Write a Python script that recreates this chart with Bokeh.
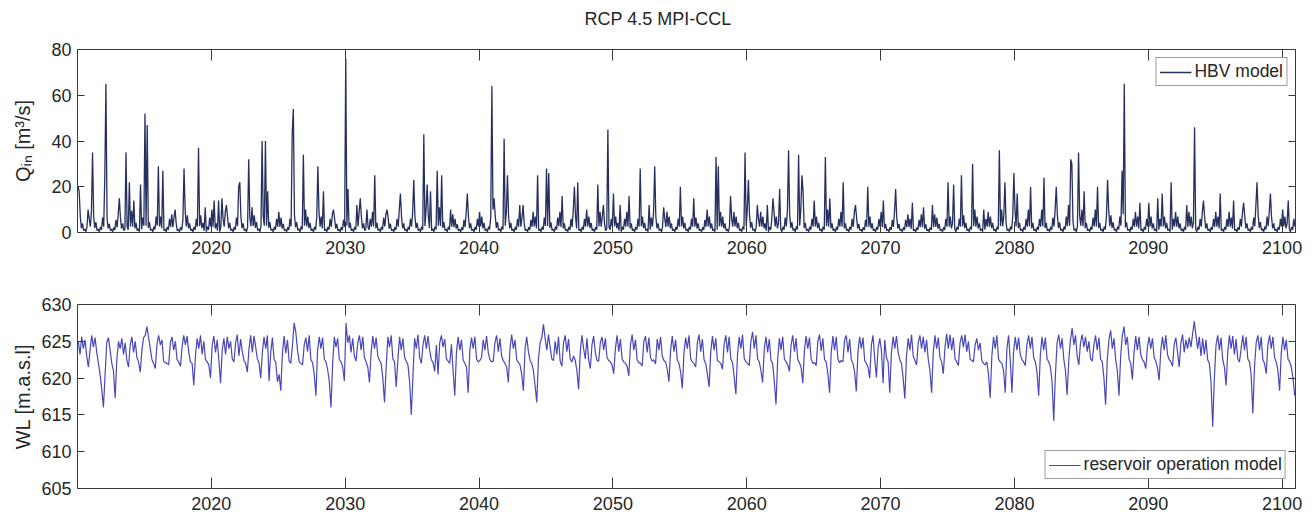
import numpy as np
from bokeh.plotting import figure
from bokeh.models import Range1d, LinearAxis, FixedTicker, Title
from bokeh.layouts import column
from bokeh.embed import file_html
from bokeh.resources import INLINE

title_text = "RCP 4.5 MPI-CCL"
q_label = "Q\u1d62\u2099 [m\u00b3/s]"
wl_label = "WL [m.a.s.l]"
q_series_name = "HBV model"
wl_series_name = "reservoir operation model"
start_year = 2010
end_year = 2101
year_ticks = [2020, 2030, 2040, 2050, 2060, 2070, 2080, 2090, 2100]
q_ticks = [0, 20, 40, 60, 80]
wl_ticks = [605, 610, 615, 620, 625, 630]
q_per_year = 12   # values per year (Jan..Dec) in the Q_in lists
wl_per_year = 8   # values per year in the WL lists

# ---- Q_in [m3/s], HBV model (12 values per year) ----
q_2010s = [
    20, 18, 7, 1.8, 4, 0.8, 1.5, 0.3, 2.5, 10, 6, 2.5,
    9, 35, 7, 2, 4.5, 0.9, 1.4, 0.3, 2.4, 1.2, 6.5, 2.5,
    25, 65, 6, 1.8, 3.8, 0.8, 1.5, 0.3, 2.2, 1.1, 5.5, 2.2,
    8, 15, 6.5, 1.7, 4, 0.8, 1.5, 35, 2.5, 1.2, 22, 2.6,
    9.5, 2.5, 14, 1.8, 4.2, 0.8, 1.6, 0.3, 21, 1.3, 6.5, 3,
    52, 3, 47, 2, 4.5, 0.9, 1.5, 0.3, 2.6, 1.3, 7, 3,
    29, 2.6, 7, 1.9, 27, 0.8, 1.5, 0.3, 2.4, 1.2, 6, 2.4,
    8, 2.3, 6.5, 10, 3.8, 0.7, 1.4, 0.3, 2.3, 1.1, 5.5, 28,
    10, 2.6, 7.5, 1.8, 4, 0.8, 1.5, 0.3, 2.5, 1.2, 6, 2.5,
    37, 2.8, 7.5, 1.9, 4.2, 0.8, 11, 0.3, 2.6, 1.2, 6.5, 2.6,
]
q_2020s = [
    10, 2.5, 14, 1.8, 4, 0.8, 14, 0.3, 2.5, 15, 6, 2.5,
    9, 12, 7, 1.8, 4.2, 0.8, 1.5, 0.3, 2.4, 1.2, 6.5, 2.8,
    20, 22, 7, 1.9, 4, 0.8, 1.5, 0.3, 2.5, 32, 6.5, 2.8,
    11, 2.8, 7.5, 2, 4.5, 0.9, 1.6, 0.3, 2.7, 40, 7, 3,
    40, 3, 18, 2, 4.5, 0.9, 1.5, 0.3, 2.5, 1.2, 6, 2.5,
    9, 2.4, 6.5, 1.7, 3.8, 0.8, 1.4, 0.3, 2.3, 1.1, 6, 2.6,
    43, 54, 8, 2.2, 4.5, 0.9, 1.6, 0.3, 2.7, 1.3, 34, 3,
    10, 2.7, 7, 1.9, 4.2, 0.8, 1.5, 0.3, 2.5, 1.2, 6.5, 29,
    9, 2.5, 7, 1.8, 18, 0.8, 1.5, 0.3, 2.4, 1.2, 6, 2.4,
    8, 10, 6, 1.7, 3.8, 0.7, 1.4, 0.3, 2.3, 1.1, 5.5, 2.4,
]
q_2030s = [
    76, 3, 19, 2, 4.2, 0.8, 1.5, 0.3, 2.5, 1.2, 12, 2.6,
    9, 15, 7, 1.8, 4, 0.8, 1.5, 10, 2.4, 1.2, 6, 2.5,
    9, 2.6, 25, 1.8, 4.2, 0.8, 1.5, 0.3, 2.5, 1.2, 6.5, 2.6,
    8, 10, 6.5, 1.7, 3.9, 0.8, 1.4, 0.3, 2.3, 1.1, 6, 2.5,
    10, 17, 7, 1.8, 4, 0.8, 1.5, 0.3, 2.4, 1.2, 6, 2.5,
    9, 23, 7, 1.9, 4.2, 0.8, 1.5, 0.3, 2.6, 1.2, 43, 2.8,
    10, 21, 7.5, 2, 18, 0.8, 1.6, 0.3, 2.6, 1.3, 27, 3,
    11, 2.8, 25, 2, 4.5, 0.9, 1.5, 0.3, 2.5, 1.2, 10, 2.5,
    8, 2.3, 6, 1.7, 3.6, 0.7, 1.4, 0.3, 2.2, 1.1, 5.5, 2.3,
    9, 17, 7, 1.8, 4, 0.8, 1.5, 0.3, 2.4, 1.2, 6, 2.6,
]
q_2040s = [
    9, 2.6, 7, 1.8, 4.2, 0.8, 1.5, 0.3, 2.6, 1.3, 7, 64,
    10, 15, 7.5, 2, 4.5, 0.9, 1.6, 0.3, 2.6, 1.3, 41, 3,
    9, 25, 7, 1.8, 4.2, 0.8, 1.5, 0.3, 2.5, 1.2, 6, 2.5,
    12, 2.5, 6.5, 12, 3.9, 0.8, 1.4, 0.3, 2.3, 1.1, 5.5, 2.4,
    9, 2.6, 7, 1.8, 25, 0.8, 1.5, 0.3, 2.5, 1.2, 6.5, 2.8,
    28, 2.8, 26, 2, 4.4, 0.9, 1.5, 0.3, 2.6, 1.2, 6.5, 2.7,
    9, 2.4, 16, 1.8, 4, 0.8, 1.4, 0.3, 2.4, 1.1, 6, 2.4,
    10, 20, 7, 1.8, 22, 0.8, 1.5, 0.3, 2.5, 1.2, 6, 2.5,
    10, 2.6, 7, 1.9, 4.2, 0.8, 1.5, 0.3, 2.5, 1.2, 21, 2.6,
    9, 2.5, 7, 12, 4, 0.8, 1.5, 45, 2.4, 1.2, 6, 2.5,
]
q_2050s = [
    17, 2.6, 7, 1.8, 4.2, 0.8, 12, 0.3, 2.5, 1.2, 6, 2.6,
    9, 2.5, 16, 1.8, 4, 0.8, 1.5, 0.3, 2.4, 1.2, 6, 2.5,
    28, 2.7, 7, 1.9, 4.2, 0.8, 1.5, 0.3, 12, 1.2, 6.5, 2.6,
    9, 29, 7, 1.8, 4, 0.8, 1.5, 0.3, 2.4, 11, 6, 2.4,
    9, 2.5, 7, 1.8, 4, 0.8, 1.5, 0.3, 2.4, 1.2, 6, 2.5,
    20, 2.6, 7, 1.8, 4.2, 0.8, 1.5, 0.3, 2.5, 1.2, 6, 2.5,
    15, 2.5, 6.5, 1.7, 4, 0.8, 1.4, 0.3, 2.3, 1.1, 5.5, 2.4,
    10, 2.6, 7, 1.8, 4, 0.8, 1.5, 0.3, 33, 1.2, 29, 2.6,
    9, 2.5, 7, 1.8, 4, 0.8, 1.5, 0.3, 2.5, 16, 6, 2.6,
    9, 2.6, 7, 1.9, 4.2, 0.8, 1.5, 0.3, 2.6, 1.3, 35, 2.8,
]
q_2060s = [
    10, 23, 7.5, 2, 4.5, 0.9, 1.5, 0.3, 2.5, 12, 6, 2.6,
    9, 2.5, 7, 1.8, 4, 0.8, 12, 0.3, 2.4, 1.2, 6, 15,
    9, 2.6, 7, 1.8, 4.2, 19, 1.5, 0.3, 2.5, 1.2, 6.5, 2.6,
    10, 36, 7.5, 2, 4.5, 0.9, 1.6, 0.3, 2.7, 1.3, 34, 3,
    10, 25, 18, 1.9, 4.2, 0.8, 1.5, 0.3, 2.5, 1.2, 6, 2.6,
    14, 2.6, 7, 1.9, 4.2, 0.8, 1.5, 0.3, 2.6, 1.2, 33, 2.8,
    10, 2.5, 15, 1.8, 4, 0.8, 1.5, 0.3, 2.4, 1.2, 6, 2.5,
    9, 2.5, 22, 1.8, 4, 0.8, 1.5, 0.3, 2.4, 1.2, 6, 2.4,
    9, 12, 6.5, 1.7, 3.8, 0.8, 1.4, 0.3, 2.3, 1.1, 5.5, 2.4,
    20, 2.5, 7, 1.8, 4, 0.8, 1.5, 0.3, 2.4, 1.2, 6, 2.4,
]
q_2070s = [
    9, 2.4, 14, 1.7, 3.8, 0.8, 1.4, 0.3, 2.3, 1.1, 5.5, 2.4,
    9, 19, 6.5, 1.7, 3.8, 0.8, 1.4, 0.3, 2.3, 1.1, 5.5, 2.3,
    8, 2.3, 6, 1.6, 13, 0.7, 1.4, 0.3, 2.2, 1.1, 5.5, 2.3,
    8, 2.3, 11, 1.6, 3.6, 0.7, 1.4, 0.3, 2.2, 1.1, 12, 2.3,
    8, 2.4, 6.5, 1.7, 3.8, 0.8, 1.4, 0.3, 2.3, 1.1, 6, 2.5,
    22, 2.5, 7, 1.8, 4, 21, 1.5, 0.3, 2.4, 1.2, 6, 2.5,
    25, 2.7, 7.5, 1.9, 4.2, 0.8, 1.5, 0.3, 2.6, 1.3, 30, 2.8,
    10, 2.5, 7, 1.8, 4, 0.8, 1.5, 0.3, 10, 1.2, 6, 2.5,
    9, 2.5, 7, 1.9, 4.2, 0.8, 1.5, 0.3, 2.6, 1.3, 36, 2.8,
    10, 2.6, 7.5, 22, 4.2, 0.8, 1.5, 0.3, 2.6, 1.3, 7, 26,
]
q_2080s = [
    10, 2.6, 17, 1.9, 4.2, 0.8, 1.5, 0.3, 2.5, 1.2, 6, 2.5,
    10, 2.6, 20, 1.8, 4.2, 0.8, 1.5, 0.3, 2.5, 1.2, 6, 2.5,
    10, 2.6, 24, 1.9, 4.2, 0.8, 1.5, 0.3, 2.5, 1.2, 6.5, 2.6,
    10, 20, 7.5, 1.9, 4.4, 0.8, 1.5, 0.3, 2.6, 1.3, 7, 2.8,
    12, 3, 32, 30, 4.8, 0.9, 1.6, 0.3, 2.8, 35, 7.5, 3,
    10, 2.7, 18, 1.9, 4.2, 0.8, 1.5, 0.3, 2.5, 1.2, 6.5, 2.6,
    10, 2.6, 20, 1.9, 4.2, 0.8, 1.5, 0.3, 2.6, 1.3, 7, 23,
    10, 2.8, 7.5, 2, 4.4, 0.9, 1.5, 0.3, 2.6, 1.3, 7, 3,
    27, 8, 65, 2.2, 4.5, 0.9, 1.5, 0.3, 2.5, 1.2, 6, 2.5,
    9, 2.5, 7, 1.8, 13, 0.8, 1.5, 0.3, 2.4, 1.2, 6, 2.5,
]
q_2090s = [
    13, 2.5, 7, 1.8, 4, 0.8, 1.5, 0.3, 15, 1.2, 6, 2.5,
    17, 2.6, 7, 1.8, 4.2, 0.8, 1.5, 0.3, 22, 1.2, 6, 2.5,
    9, 2.5, 7, 1.8, 4, 0.8, 1.5, 0.3, 2.4, 1.2, 12, 2.5,
    9, 2.6, 7, 1.8, 4.2, 46, 1.5, 0.3, 2.5, 1.2, 6, 2.5,
    9, 14, 7, 1.8, 4, 0.8, 1.5, 0.3, 2.4, 1.2, 6, 2.4,
    9, 2.5, 7, 1.8, 17, 0.8, 1.5, 0.3, 2.4, 1.2, 6, 2.4,
    9, 2.5, 6.5, 1.7, 14, 0.8, 1.4, 0.3, 2.3, 1.1, 6, 2.5,
    9, 13, 7, 1.8, 4, 0.8, 1.5, 0.3, 2.4, 1.2, 6.5, 2.7,
    12, 22, 8, 2, 4.5, 0.9, 1.6, 0.3, 2.6, 1.3, 7, 2.8,
    9, 17, 7, 1.8, 4, 0.8, 1.5, 0.3, 2.4, 1.2, 6, 2.6,
]
q_2100 = [10, 2.6, 7, 1.8, 4, 14, 1.5, 0.3, 2.4, 1.2, 6, 2.5]

# ---- Water level WL [m a.s.l.], reservoir operation model (8 values per year) ----
wl_2010s = [
    625.0, 623.2, 625.6, 624.0, 625.2, 623.0, 621.5, 623.8,
    625.8, 624.2, 625.5, 623.5, 622.0, 620.5, 618.5, 616.0,
    620.5, 624.8, 625.5, 623.8, 622.0, 621.0, 617.3, 622.5,
    625.0, 624.0, 625.4, 623.2, 624.8, 622.4, 621.5, 624.5,
    625.6, 623.5, 625.0, 622.8, 622.2, 620.8, 623.8, 625.5,
    625.8, 627.0, 625.5, 624.0, 622.5, 622.0, 621.3, 624.6,
    625.8, 624.5, 625.2, 622.3, 622.1, 622.0, 621.8, 624.8,
    625.6, 623.8, 625.0, 622.5, 622.2, 621.6, 624.2, 625.8,
    624.5, 625.7, 623.5, 622.2, 622.0, 619.0, 623.0, 625.4,
    624.0, 625.8, 623.2, 625.0, 622.5, 622.2, 621.8, 620.0,
]
wl_2020s = [
    624.5, 625.7, 623.5, 625.2, 622.4, 619.3, 623.8, 625.4,
    623.2, 625.6, 624.0, 625.0, 622.6, 622.2, 624.8, 625.9,
    623.0, 625.3, 623.6, 622.4, 622.0, 620.8, 624.0, 625.8,
    623.5, 625.7, 624.2, 622.6, 622.1, 620.0, 623.5, 625.6,
    624.0, 625.8, 619.6, 623.5, 625.5, 622.5, 622.2, 619.5,
    620.5, 618.3, 623.5, 625.7, 623.4, 625.2, 622.3, 622.0,
    624.5, 627.5, 626.2, 623.8, 622.2, 622.0, 621.8, 624.5,
    625.5, 623.6, 625.8, 622.5, 622.1, 620.5, 617.6, 623.8,
    625.6, 624.0, 625.5, 622.6, 622.2, 621.2, 619.5, 616.0,
    622.0, 625.6, 624.2, 625.4, 622.5, 622.2, 621.5, 619.6,
]
wl_2030s = [
    627.5, 624.8, 625.8, 623.5, 625.4, 623.0, 622.3, 624.8,
    625.8, 623.8, 625.6, 622.8, 622.2, 621.5, 619.4, 623.5,
    625.7, 624.0, 625.5, 623.0, 622.4, 622.0, 620.0, 616.7,
    621.5, 625.6, 624.2, 625.8, 622.6, 622.2, 618.8, 622.5,
    625.6, 623.8, 625.4, 622.8, 622.3, 621.8, 619.5, 615.0,
    620.3, 625.4, 624.0, 625.9, 622.8, 622.0, 624.5, 625.8,
    624.0, 625.7, 623.8, 622.5, 622.1, 620.9, 624.5, 620.5,
    624.8, 625.8, 624.2, 625.3, 622.6, 622.3, 622.0, 624.6,
    621.0, 617.6, 623.5, 625.6, 623.8, 625.2, 622.5, 622.0,
    621.5, 618.0, 623.8, 625.5, 624.0, 625.6, 622.6, 622.2,
]
wl_2040s = [
    622.4, 622.8, 625.2, 623.8, 625.7, 623.5, 622.5, 622.2,
    622.3, 624.8, 625.8, 623.6, 625.4, 623.0, 622.4, 622.0,
    621.5, 619.4, 624.0, 625.9, 624.0, 625.2, 622.5, 622.1,
    621.8, 620.5, 618.3, 624.0, 625.6, 623.6, 622.4, 622.0,
    621.0, 619.0, 616.7, 622.5, 624.8, 625.5, 627.3, 625.4,
    623.8, 625.9, 624.2, 622.6, 622.4, 625.0, 623.2, 625.6,
    622.3, 621.6, 624.8, 625.8, 623.6, 625.3, 622.6, 622.2,
    623.0, 622.4, 621.0, 618.5, 623.6, 625.8, 624.0, 622.6,
    625.4, 622.5, 621.3, 624.5, 625.7, 623.5, 622.4, 622.3,
    624.8, 625.6, 623.8, 625.4, 622.8, 622.4, 622.2, 621.8,
]
wl_2050s = [
    620.6, 624.0, 625.8, 623.6, 625.3, 622.6, 622.2, 622.0,
    621.6, 620.3, 624.5, 625.9, 623.8, 625.2, 622.5, 622.1,
    622.0, 621.6, 625.0, 625.7, 623.5, 625.5, 622.8, 622.3,
    622.5, 621.9, 625.3, 623.8, 625.6, 623.0, 622.4, 622.2,
    621.2, 619.5, 623.8, 625.7, 623.6, 625.2, 622.5, 622.0,
    620.8, 618.6, 623.5, 625.5, 624.0, 625.8, 622.6, 622.2,
    622.0, 621.5, 624.8, 625.9, 623.6, 625.3, 622.5, 622.0,
    620.5, 618.8, 623.6, 625.7, 623.8, 625.4, 622.4, 622.2,
    622.0, 621.2, 624.6, 625.8, 623.5, 625.6, 622.6, 622.1,
    620.2, 617.8, 623.2, 625.6, 624.0, 625.9, 622.7, 622.2,
]
wl_2060s = [
    622.0, 621.7, 625.0, 626.3, 624.0, 625.8, 622.6, 622.2,
    621.0, 619.4, 624.0, 625.6, 623.5, 625.3, 622.4, 622.0,
    619.5, 616.4, 622.5, 625.4, 623.8, 625.6, 622.6, 622.2,
    621.8, 620.9, 624.5, 625.8, 623.6, 625.4, 622.5, 622.1,
    621.4, 619.3, 623.8, 625.7, 624.0, 625.5, 622.6, 622.0,
    622.1, 621.7, 625.0, 625.9, 623.7, 625.4, 622.5, 622.2,
    620.6, 618.0, 623.5, 625.7, 623.8, 625.6, 622.6, 622.1,
    622.4, 622.2, 625.2, 625.8, 623.5, 625.3, 622.5, 622.0,
    620.8, 618.2, 623.6, 625.6, 624.0, 625.5, 622.4, 622.0,
    621.5, 620.0, 624.5, 625.8, 622.6, 620.1, 624.0, 625.4,
]
wl_2070s = [
    623.8, 619.3, 625.2, 622.8, 622.2, 618.0, 623.5, 625.6,
    624.0, 625.7, 623.5, 622.5, 622.0, 620.0, 617.2, 623.0,
    625.4, 623.8, 625.9, 623.0, 622.4, 621.8, 624.8, 625.8,
    624.0, 625.6, 623.5, 625.2, 622.5, 621.0, 618.0, 623.5,
    625.8, 624.0, 625.5, 622.8, 622.2, 620.6, 624.2, 626.0,
    624.0, 625.9, 623.8, 625.5, 622.6, 622.2, 621.7, 624.8,
    625.8, 624.2, 625.9, 623.6, 625.0, 622.6, 622.4, 622.2,
    624.5, 625.4, 623.8, 624.8, 622.4, 622.0, 621.8, 622.2,
    620.5, 617.3, 623.0, 625.6, 624.0, 625.8, 622.6, 622.2,
    622.0, 621.0, 618.0, 624.0, 625.8, 622.5, 618.0, 623.6,
]
wl_2080s = [
    625.6, 623.8, 625.5, 623.2, 622.5, 622.2, 621.7, 624.6,
    625.8, 624.0, 625.6, 622.8, 622.2, 620.8, 617.6, 623.2,
    625.6, 623.8, 625.5, 622.6, 622.2, 621.5, 619.5, 614.2,
    620.5, 624.8, 625.9, 624.0, 625.4, 622.6, 621.0, 617.7,
    622.5, 625.2, 626.8, 624.5, 625.8, 623.0, 621.8, 624.8,
    625.9, 624.2, 625.6, 623.6, 625.0, 622.6, 622.3, 624.5,
    625.8, 623.8, 625.5, 622.6, 622.2, 620.0, 616.4, 622.5,
    625.2, 626.5, 624.0, 625.4, 622.5, 621.0, 617.6, 623.0,
    625.8, 627.0, 624.5, 625.6, 622.6, 622.0, 619.8, 623.5,
    625.7, 623.8, 625.6, 623.2, 622.5, 622.2, 621.3, 624.2,
]
wl_2090s = [
    625.6, 624.0, 625.4, 622.8, 622.3, 621.4, 619.7, 623.8,
    625.6, 623.8, 625.8, 623.2, 622.5, 622.2, 621.6, 624.6,
    625.5, 623.5, 621.5, 624.8, 625.9, 623.5, 625.2, 624.0,
    625.5, 624.2, 626.0, 627.7, 625.8, 624.0, 625.6, 623.0,
    625.4, 623.2, 625.2, 622.5, 622.0, 619.5, 613.4, 620.0,
    624.5, 625.8, 623.8, 625.5, 622.5, 621.5, 619.0, 623.5,
    625.8, 624.0, 625.7, 623.2, 625.3, 622.6, 622.2, 624.0,
    625.8, 623.8, 625.6, 622.6, 622.2, 620.5, 615.2, 621.5,
    624.8, 625.8, 623.8, 625.6, 622.5, 622.0, 620.6, 624.5,
    625.8, 624.0, 625.6, 622.8, 622.2, 621.0, 618.3, 623.5,
]
wl_2100 = [625.6, 623.8, 625.2, 622.6, 622.2, 621.5, 620.0, 617.6]

q_all = (q_2010s + q_2020s + q_2030s + q_2040s + q_2050s + q_2060s + q_2070s
         + q_2080s + q_2090s + q_2100)
wl_all = (wl_2010s + wl_2020s + wl_2030s + wl_2040s + wl_2050s + wl_2060s
          + wl_2070s + wl_2080s + wl_2090s + wl_2100)
q_time = start_year + (np.arange(len(q_all)) + 0.5) / q_per_year
wl_time = start_year + (np.arange(len(wl_all)) + 0.5) / wl_per_year

FONT = "Liberation Sans"
AX = "#3a3a3a"
TXT = "#262626"
W = 1316


def style(p, yticks, ylabel, lab_standoff):
    p.xgrid.visible = False
    p.ygrid.visible = False
    p.outline_line_color = AX
    p.outline_line_width = 1
    p.background_fill_color = "white"
    p.border_fill_color = "white"
    for ax in p.xaxis:
        ax.ticker = FixedTicker(ticks=year_ticks)
        ax.major_tick_in = 11
        ax.major_tick_out = 0
        ax.major_label_standoff = 8
    for ax in p.yaxis:
        ax.ticker = FixedTicker(ticks=yticks)
        ax.major_tick_in = 7
        ax.major_tick_out = 0
        ax.major_label_standoff = 6
        ax.axis_label = ylabel
        ax.axis_label_standoff = lab_standoff
        ax.axis_label_text_font = FONT
        ax.axis_label_text_font_size = "20px"
        ax.axis_label_text_font_style = "normal"
        ax.axis_label_text_color = TXT
    for ax in list(p.xaxis) + list(p.yaxis):
        ax.axis_line_color = None
        ax.major_tick_line_color = AX
        ax.minor_tick_line_color = None
        ax.major_label_text_font = FONT
        ax.major_label_text_font_size = "18px"
        ax.major_label_text_color = TXT
    # mirror ticks on the top and right sides (boxed axes), without labels
    top = LinearAxis(ticker=FixedTicker(ticks=year_ticks), major_tick_in=11, major_tick_out=0,
                     major_label_overrides={t: "" for t in year_ticks}, axis_line_color=None,
                     major_tick_line_color=AX, minor_tick_line_color=None,
                     major_label_standoff=0)
    right = LinearAxis(ticker=FixedTicker(ticks=yticks), major_tick_in=7, major_tick_out=0,
                       major_label_overrides={t: "" for t in yticks}, axis_line_color=None,
                       major_tick_line_color=AX, minor_tick_line_color=None,
                       major_label_standoff=0)
    p.add_layout(top, "above")
    p.add_layout(right, "right")


def style_legend(p, loc, margin):
    lg = p.legend[0]
    lg.location = loc
    lg.margin = margin
    lg.padding = 3
    lg.spacing = 0
    lg.border_line_color = AX
    lg.border_line_width = 1
    lg.background_fill_color = "white"
    lg.background_fill_alpha = 1
    lg.label_text_font = FONT
    lg.label_text_font_size = "17.5px"
    lg.label_text_color = TXT
    lg.glyph_width = 32
    lg.glyph_height = 18
    lg.label_height = 18
    lg.label_standoff = 3


# ---- top panel ----
p1 = figure(width=W, height=268, output_backend="svg", toolbar_location=None,
            x_range=Range1d(start_year, end_year), y_range=Range1d(q_ticks[0], q_ticks[-1]),
            min_border_left=77, min_border_right=21, min_border_top=49, min_border_bottom=36)
p1.line(q_time, q_all, line_color="#25305e", line_width=1.3, legend_label=q_series_name)
style(p1, q_ticks, q_label, 14)
style_legend(p1, "top_right", 8)
# title centred on the whole figure (x = 658); the trailing empty line lifts it upwards
p1.title = Title(text=title_text + "\n", align="left", offset=507, standoff=2,
                 text_font=FONT, text_font_size="18px", text_font_style="normal",
                 text_color=TXT)

# ---- bottom panel ----
p2 = figure(width=W, height=252, output_backend="svg", toolbar_location=None,
            x_range=Range1d(start_year, end_year), y_range=Range1d(wl_ticks[0], wl_ticks[-1]),
            min_border_left=77, min_border_right=21, min_border_top=36, min_border_bottom=32)
p2.line(wl_time, wl_all, line_color="#4848b8", line_width=1.2, legend_label=wl_series_name)
style(p2, wl_ticks, wl_label, 4)
style_legend(p2, "bottom_right", 9)

layout = column(p1, p2, spacing=0)
open("out.html", "w").write(file_html(layout, INLINE))
